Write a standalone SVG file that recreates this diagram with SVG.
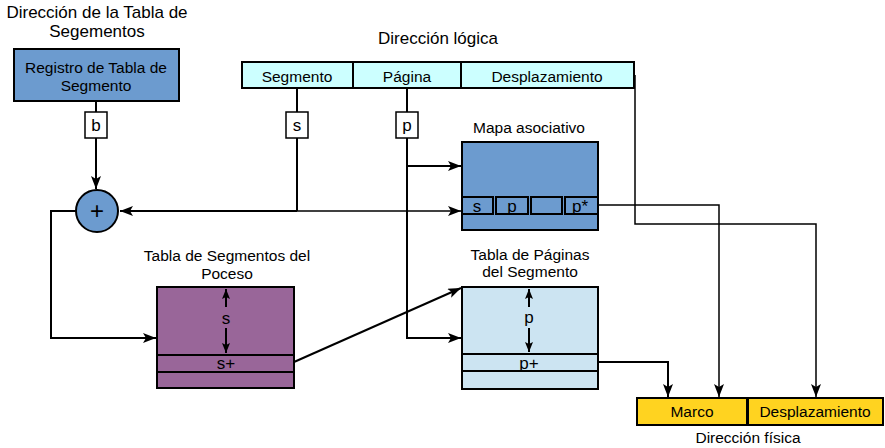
<svg xmlns="http://www.w3.org/2000/svg" width="885" height="448" viewBox="0 0 885 448">
<defs>
<marker id="ah" markerWidth="14" markerHeight="11" refX="13" refY="5" orient="auto" markerUnits="userSpaceOnUse">
<path d="M0,0 L13,5 L0,10 L3,5 z" fill="#000"/>
</marker>
<marker id="ahs" markerWidth="11" markerHeight="9" refX="10" refY="4" orient="auto" markerUnits="userSpaceOnUse">
<path d="M0,0 L10,4 L0,8 L2,4 z" fill="#000"/>
</marker>
<style>
text{font-family:"Liberation Sans",Arial,sans-serif;font-size:15.5px;fill:#000;text-anchor:middle}
.big{font-size:17px}
.cell{font-size:17px}
.plus{font-size:24px}
.box{stroke:#000;stroke-width:2}
.ln{fill:none;stroke:#000;stroke-width:2}
.thin{fill:none;stroke:#000;stroke-width:1.5}
.lbl{fill:#fff;stroke:#000;stroke-width:1.5}
</style>
</defs>

<g id="connectors">
<path class="ln" d="M96,101 V112"/>
<path class="ln" d="M96,138 V189" marker-end="url(#ah)"/>
<path class="ln" d="M297,88 V112"/>
<path class="ln" d="M297,138 V211"/>
<path class="ln" d="M297,211 H120" marker-end="url(#ah)"/>
<path class="thin" d="M297,211 H461" stroke="#333" marker-end="url(#ah)"/>
<path class="ln" d="M407,88 V112"/>
<path class="ln" d="M407,138 V338 H461" marker-end="url(#ah)"/>
<path class="ln" d="M407,166 H461" marker-end="url(#ah)"/>
<path class="ln" d="M76,211 H51 V338 H156" marker-end="url(#ah)"/>
<path class="ln" d="M294,362 L461,288" marker-end="url(#ah)"/>
<path class="ln" d="M598,362 H668 V397" marker-end="url(#ah)"/>
<path class="thin" d="M598,205 H719 V397" marker-end="url(#ah)"/>
<path class="thin" d="M635,75 V224 H816 V397" marker-end="url(#ah)"/>
</g>

<g id="title-tabla">
<text class="big" x="97" y="18">Dirección de la Tabla de</text>
<text class="big" x="97" y="37">Segementos</text>
</g>

<g id="registro">
<rect class="box" x="14" y="49" width="165" height="52" fill="#6c9bcf"/>
<text x="96" y="73">Registro de Tabla de</text>
<text x="96" y="91">Segmento</text>
</g>

<g id="label-b">
<rect class="lbl" x="85" y="112" width="22" height="26"/>
<text class="cell" x="96" y="131">b</text>
</g>

<g id="sumador">
<circle cx="97" cy="211" r="21" fill="#6c9bcf" stroke="#000" stroke-width="2"/>
<text x="97" y="219" class="plus">+</text>
</g>

<g id="direccion-logica">
<text class="big" x="438" y="44">Dirección lógica</text>
<rect class="box" x="242" y="62" width="111" height="26" fill="#ccffff"/>
<rect class="box" x="353" y="62" width="108" height="26" fill="#ccffff"/>
<rect class="box" x="461" y="62" width="173" height="26" fill="#ccffff"/>
<text x="297" y="82">Segmento</text>
<text x="407" y="82">Página</text>
<text x="547" y="82">Desplazamiento</text>
</g>

<g id="label-s">
<rect class="lbl" x="286" y="112" width="22" height="26"/>
<text class="cell" x="297" y="131">s</text>
</g>

<g id="label-p">
<rect class="lbl" x="396" y="112" width="22" height="26"/>
<text class="cell" x="407" y="131">p</text>
</g>

<g id="mapa-asociativo">
<text x="529" y="133">Mapa asociativo</text>
<rect class="box" x="462" y="142" width="136" height="88" fill="#6c9bcf"/>
<rect class="box" x="462" y="197" width="31" height="17" fill="#6c9bcf"/>
<rect class="box" x="496" y="197" width="32" height="17" fill="#6c9bcf"/>
<rect class="box" x="531" y="197" width="31" height="17" fill="#6c9bcf"/>
<rect class="box" x="565" y="197" width="33" height="17" fill="#6c9bcf"/>
<text class="cell" x="477" y="212">s</text>
<text class="cell" x="512" y="212">p</text>
<text class="cell" x="580" y="212">p*</text>
</g>

<g id="tabla-segmentos">
<text x="227" y="261">Tabla de Segmentos del</text>
<text x="227" y="279">Poceso</text>
<rect class="box" x="157" y="287" width="137" height="101" fill="#996699"/>
<rect class="box" x="157" y="355" width="137" height="17" fill="#996699"/>
<text class="cell" x="226" y="369">s+</text>
<path class="ln" d="M226,307 V289" marker-end="url(#ahs)"/>
<text class="cell" x="226" y="324">s</text>
<path class="ln" d="M226,328 V353" marker-end="url(#ahs)"/>
</g>

<g id="tabla-paginas">
<text x="530" y="260">Tabla de Páginas</text>
<text x="530" y="277">del Segmento</text>
<rect class="box" x="462" y="287" width="136" height="102" fill="#cce4f2"/>
<rect class="box" x="462" y="354" width="136" height="17" fill="#cce4f2"/>
<text class="cell" x="529" y="369">p+</text>
<path class="ln" d="M529,307 V289" marker-end="url(#ahs)"/>
<text class="cell" x="529" y="323">p</text>
<path class="ln" d="M529,328 V352" marker-end="url(#ahs)"/>
</g>

<g id="direccion-fisica">
<rect class="box" x="637" y="398" width="110" height="27" fill="#ffd320"/>
<rect class="box" x="748" y="398" width="135" height="27" fill="#ffd320"/>
<text x="692" y="417">Marco</text>
<text x="815" y="417">Desplazamiento</text>
<text x="748" y="443">Dirección física</text>
</g>
</svg>
